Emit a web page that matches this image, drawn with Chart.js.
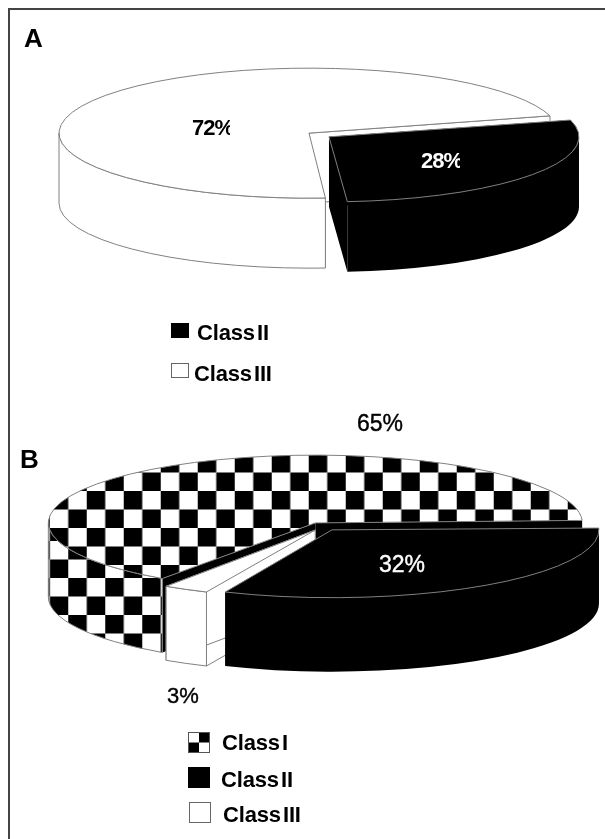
<!DOCTYPE html>
<html><head><meta charset="utf-8">
<style>
html,body{margin:0;padding:0;background:#fff}
#page{position:relative;width:605px;height:839px;overflow:hidden}
#frame{position:absolute;left:8px;top:8px;width:640px;height:900px;border:2px solid #444;border-right:0;border-bottom:0;box-sizing:border-box}
canvas{position:absolute;left:0;top:0}
</style>
<script src="https://cdn.jsdelivr.net/npm/chart.js@4"></script>
</head><body>
<div id="page"><div id="frame"></div>
<canvas id="pieA" width="605" height="839"></canvas>
<canvas id="pieB" width="605" height="839"></canvas>
</div>
<script>
const panelALetter = "A";
const panelBLetter = "B";
const categoriesA = ["Class II", "Class III"];
const valuesA = [28, 72];
const categoriesB = ["Class I", "Class II", "Class III"];
const valuesB = [65, 32, 3];

const W = 605, H = 839, GREY = "#808080", FONT = '"Liberation Sans", Arial, sans-serif';

function checkerTile() {
  const t = document.createElement("canvas");
  t.width = t.height = 37;
  const g = t.getContext("2d");
  g.fillStyle = "#fff"; g.fillRect(0, 0, 37, 37);
  g.fillStyle = "#000";
  g.fillRect(0, 0, 18.5, 18.5);
  g.fillRect(18.5, 18.5, 18.5, 18.5);
  return t;
}

function drawLabelText(ctx, t) {
  ctx.save();
  if (t.clipX) { ctx.beginPath(); ctx.rect(0, t.y - 40, t.clipX, 60); ctx.clip(); }
  ctx.font = (t.weight || "bold") + " " + t.size + 'px ' + FONT;
  ctx.fillStyle = t.color || "#000";
  ctx.letterSpacing = (t.ls || 0) + "px";
  ctx.wordSpacing = (t.ws || 0) + "px";
  ctx.textAlign = "left"; ctx.textBaseline = "alphabetic";
  ctx.fillText(t.text, t.x, t.y);
  if (t.weight === "normal") { ctx.strokeStyle = ctx.fillStyle; ctx.lineWidth = 0.4; ctx.strokeText(t.text, t.x, t.y); }
  ctx.restore();
}

function swatch(ctx, s) {
  if (s.kind === "black") { ctx.fillStyle = "#000"; ctx.fillRect(s.x, s.y, s.w, s.h); return; }
  ctx.fillStyle = "#fff"; ctx.fillRect(s.x, s.y, s.w, s.h);
  if (s.kind === "check") {
    ctx.fillStyle = "#000";
    ctx.fillRect(s.x, s.y + s.h / 2, s.w / 2, s.h / 2);
    ctx.fillRect(s.x + s.w / 2, s.y, s.w / 2, s.h / 2);
  }
  ctx.strokeStyle = s.kind === "check" ? "#555" : "#666"; ctx.lineWidth = 1;
  ctx.strokeRect(s.x + .5, s.y + .5, s.w - 1, s.h - 1);
}

function makePie(id, cfg) {
  const canvas = document.getElementById(id), ctx = canvas.getContext("2d");
  const tile = checkerTile();
  const topPattern = ctx.createPattern(tile, "repeat");
  const wallPattern = ctx.createPattern(tile, "repeat");
  const paint = k => k === "check" ? topPattern : k === "black" ? "#000" : "#fff";
  const geom = a => {
    const o = a.options.offset / 4, alpha = a.endAngle - a.startAngle;
    const fix = 1 - Math.sin(Math.min(Math.PI, alpha)), ro = o * fix;
    const R = a.outerRadius + ro, beta = Math.max(0.001, alpha * R - ro / Math.PI) / R;
    const d = (alpha - beta) / 2, h = (a.startAngle + a.endAngle) / 2;
    return { cx: a.x + Math.cos(h) * o, cy: a.y + Math.sin(h) * o * cfg.k, R, a1: a.startAngle + d, a2: a.endAngle - d, ox: Math.cos(h) * o, oy: Math.sin(h) * o };
  };
  const plugin = {
    id: "pie3d",
    afterDatasetsUpdate(chart) {
      chart.getDatasetMeta(0).data.forEach(a => {
        const o = a.options.offset / 4, alpha = a.endAngle - a.startAngle;
        a.outerRadius = cfg.radius - o * (1 - Math.sin(Math.min(Math.PI, alpha)));
      });
    },
    beforeDatasetsDraw(chart) {
      const c = chart.ctx, arcs = chart.getDatasetMeta(0).data, D = cfg.depth, k = cfg.k;
      wallPattern.setTransform(new DOMMatrix().translate(cfg.wallPhase[0], cfg.wallPhase[1]));
      c.lineWidth = 1; c.strokeStyle = GREY;
      cfg.wallOrder.forEach(i => {
        const g = geom(arcs[i]), kind = cfg.kinds[i];
        const radialFill = kind === "white" ? "#fff" : "#000";
        [g.a1, g.a2].forEach(ang => {
          const ex = g.cx + Math.cos(ang) * g.R, ey = g.cy + Math.sin(ang) * g.R * k;
          c.beginPath();
          c.moveTo(g.cx, g.cy); c.lineTo(ex, ey); c.lineTo(ex, ey + D); c.lineTo(g.cx, g.cy + D); c.closePath();
          c.fillStyle = radialFill; c.fill();
          if (kind === "white") c.stroke();
        });
        [0, 2 * Math.PI, 4 * Math.PI].forEach(base => {
          const s = Math.max(g.a1, base), e = Math.min(g.a2, base + Math.PI);
          if (e <= s) return;
          c.beginPath();
          c.ellipse(g.cx, g.cy, g.R, g.R * k, 0, s, e);
          c.ellipse(g.cx, g.cy + D, g.R, g.R * k, 0, e, s, true);
          c.closePath();
          c.fillStyle = kind === "check" ? wallPattern : kind === "black" ? "#000" : "#fff";
          c.fill();
          if (kind !== "black") c.stroke();
        });
      });
      c.save();
      c.translate(arcs[0].x, arcs[0].y); c.scale(1, k); c.translate(-arcs[0].x, -arcs[0].y);
      const ci = cfg.kinds.indexOf("check");
      if (ci >= 0) {
        const g = geom(arcs[ci]);
        const m = c.getTransform().translate(g.ox, g.oy);
        topPattern.setTransform(m.inverse().translate(cfg.topPhase[0], cfg.topPhase[1]));
      }
    },
    afterDatasetsDraw(chart) {
      const c = chart.ctx, arcs = chart.getDatasetMeta(0).data;
      c.restore();
      c.lineWidth = 1; c.strokeStyle = GREY;
      arcs.forEach(a => {
        const g = geom(a);
        c.beginPath(); c.moveTo(g.cx, g.cy);
        c.ellipse(g.cx, g.cy, g.R, g.R * cfg.k, 0, g.a1, g.a2);
        c.closePath(); c.stroke();
      });
      cfg.texts(chart).forEach(t => drawLabelText(c, t));
      cfg.swatches.forEach(s => swatch(c, s));
    }
  };
  return new Chart(ctx, {
    type: "pie",
    data: { labels: cfg.labels, datasets: [{ data: cfg.values, backgroundColor: cfg.kinds.map(paint), borderWidth: 0, offset: cfg.offset, hoverOffset: 0, clip: false }] },
    options: {
      responsive: false, animation: false, events: [], rotation: cfg.rotation, radius: cfg.radius,
      layout: { padding: { left: Math.max(0, 2 * cfg.cx - W), right: Math.max(0, W - 2 * cfg.cx), top: Math.max(0, 2 * cfg.cy - H), bottom: Math.max(0, H - 2 * cfg.cy) } },
      plugins: { legend: { display: false }, tooltip: { enabled: false }, title: { display: false } }
    },
    plugins: [plugin]
  });
}

makePie("pieA", {
  labels: categoriesA, values: valuesA, kinds: ["black", "white"], wallOrder: [1, 0],
  cx: 319, cy: 135, radius: 250, k: 0.26, depth: 70, offset: 49, rotation: 75,
  wallPhase: [0, 0], topPhase: [0, 0],
  swatches: [
    { kind: "black", x: 171, y: 323, w: 18, h: 15 },
    { kind: "white", x: 171, y: 363, w: 18, h: 15 }
  ],
  texts: ch => [
    { text: panelALetter, x: 24, y: 47, size: 26 },
    { text: ch.data.datasets[0].data[1] + "%", x: 192, y: 135, size: 22, ls: -1, clipX: 230 },
    { text: ch.data.datasets[0].data[0] + "%", x: 421, y: 168, size: 22, ls: -1, color: "#fff", clipX: 460 },
    { text: ch.data.labels[0], x: 197, y: 340, size: 22, ls: -0.15, ws: -4 },
    { text: ch.data.labels[1], x: 194, y: 381, size: 22, ls: -0.15, ws: -4 }
  ]
});

makePie("pieB", {
  labels: categoriesB, values: valuesB, kinds: ["check", "black", "white"], wallOrder: [0, 2, 1],
  cx: 323, cy: 526.5, radius: 267, k: 0.254, depth: 74, offset: 64, rotation: 214.4,
  wallPhase: [68.2, 578], topPhase: [86.7, 491],
  swatches: [
    { kind: "check", x: 188, y: 732, w: 22, h: 21 },
    { kind: "black", x: 188, y: 767, w: 22, h: 21 },
    { kind: "white", x: 189, y: 802, w: 22, h: 21 }
  ],
  texts: ch => [
    { text: panelBLetter, x: 20, y: 468, size: 26 },
    { text: ch.data.datasets[0].data[0] + "%", x: 357, y: 431, size: 23, weight: "normal" },
    { text: ch.data.datasets[0].data[1] + "%", x: 379, y: 572, size: 23, weight: "normal", color: "#fff" },
    { text: ch.data.datasets[0].data[2] + "%", x: 167, y: 703, size: 22, weight: "normal" },
    { text: ch.data.labels[0], x: 222, y: 750, size: 22, ls: -0.15, ws: -4 },
    { text: ch.data.labels[1], x: 221, y: 787, size: 22, ls: -0.15, ws: -4 },
    { text: ch.data.labels[2], x: 223, y: 822, size: 22, ls: -0.15, ws: -4 }
  ]
});
</script>
</body></html>
